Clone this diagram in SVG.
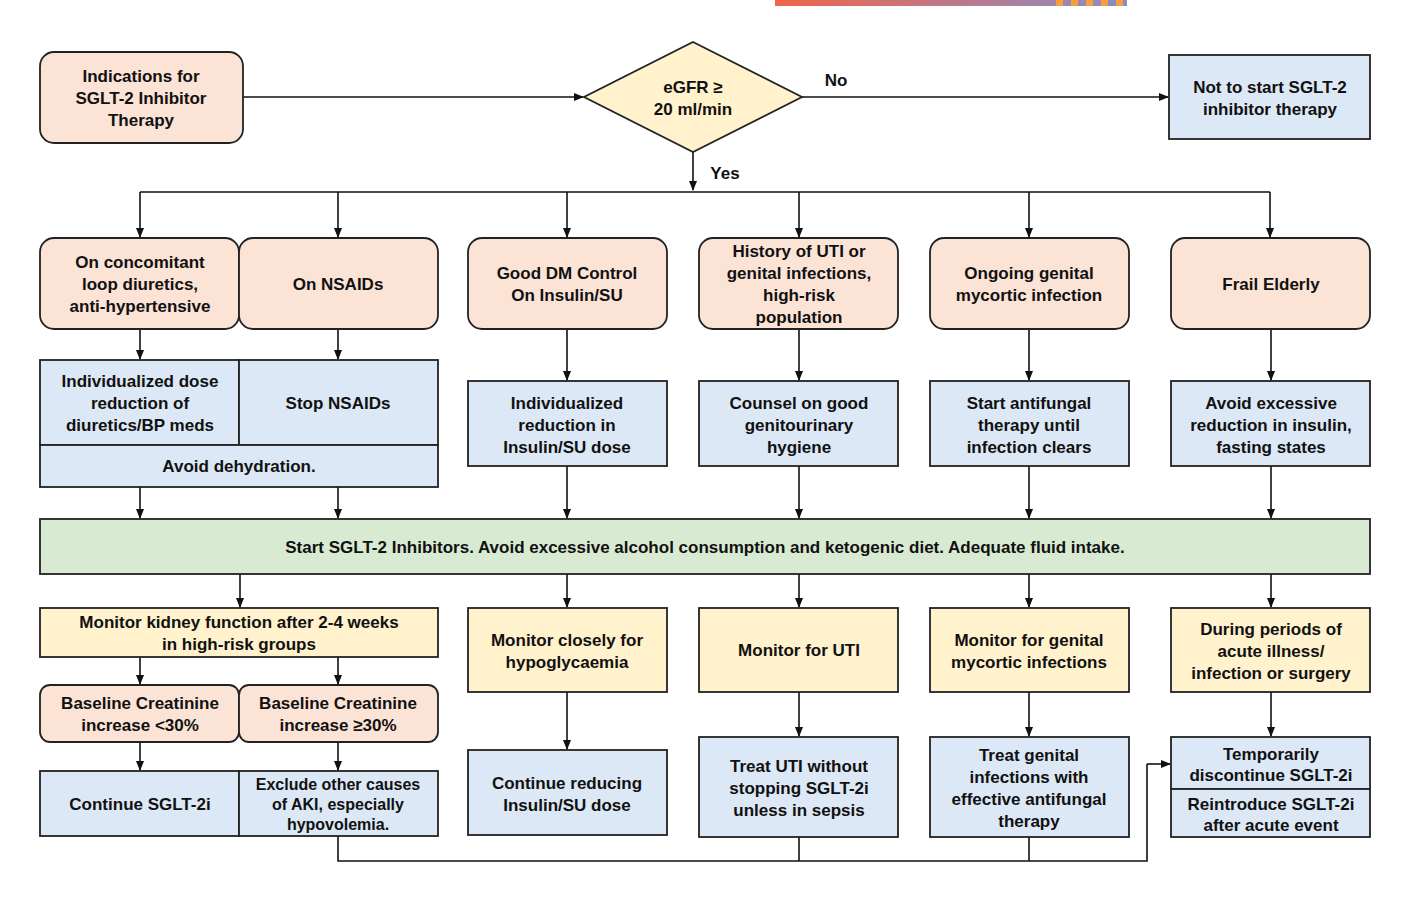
<svg xmlns="http://www.w3.org/2000/svg" width="1408" height="898" viewBox="0 0 1408 898">
<defs>
<marker id="ah" markerWidth="10" markerHeight="8" refX="9" refY="4" orient="auto" markerUnits="userSpaceOnUse"><path d="M0,0 L10,4 L0,8 Z" fill="#111"/></marker>
<linearGradient id="g" x1="0" x2="1"><stop offset="0" stop-color="#f0654a"/><stop offset="1" stop-color="#8a8cc6"/></linearGradient>
<style>
.b{stroke:#222;stroke-width:1.8}
.p{fill:#fbe3d6}.u{fill:#dce8f5}.y{fill:#fff2cc}.gr{fill:#d9ead3}
text{font-family:"Liberation Sans",Arial,sans-serif;font-weight:bold;font-size:17px;fill:#111;text-anchor:middle}
.c{fill:none;stroke:#111;stroke-width:1.6}
.a{marker-end:url(#ah)}
</style>
</defs>
<rect x="775" y="0" width="352" height="6" fill="url(#g)"/>
<g fill="#f5a03c"><rect x="1056" y="0" width="7" height="6"/><rect x="1071" y="0" width="7" height="6"/><rect x="1086" y="0" width="7" height="6"/><rect x="1101" y="0" width="7" height="6"/><rect x="1116" y="0" width="7" height="6"/></g>

<g id="connectors">
<path class="c a" d="M243,97 H583"/>
<path class="c a" d="M802,97 H1168"/>
<path class="c a" d="M693,152 V190"/>
<path class="c" d="M140,192 H1270"/>
<path class="c a" d="M140,192 V237"/><path class="c a" d="M338,192 V237"/><path class="c a" d="M567,192 V237"/><path class="c a" d="M799,192 V237"/><path class="c a" d="M1029,192 V237"/><path class="c a" d="M1270,192 V237"/>
<path class="c a" d="M140,329 V359"/><path class="c a" d="M338,329 V359"/>
<path class="c a" d="M567,329 V380"/><path class="c a" d="M799,329 V380"/><path class="c a" d="M1029,329 V380"/><path class="c a" d="M1271,329 V380"/>
<path class="c a" d="M140,487 V518"/><path class="c a" d="M338,487 V518"/>
<path class="c a" d="M567,466 V518"/><path class="c a" d="M799,466 V518"/><path class="c a" d="M1029,466 V518"/><path class="c a" d="M1271,466 V518"/>
<path class="c a" d="M240,574 V607"/><path class="c a" d="M567,574 V607"/><path class="c a" d="M799,574 V607"/><path class="c a" d="M1029,574 V607"/><path class="c a" d="M1271,574 V607"/>
<path class="c a" d="M140,657 V684"/><path class="c a" d="M338,657 V684"/>
<path class="c a" d="M140,742 V770"/><path class="c a" d="M338,742 V770"/>
<path class="c a" d="M567,692 V749"/><path class="c a" d="M799,692 V736"/><path class="c a" d="M1029,692 V736"/><path class="c a" d="M1271,692 V736"/>
<path class="c" d="M338,836 V861 H1147 V764"/><path class="c a" d="M1147,764 H1170"/>
<path class="c" d="M799,837 V861"/><path class="c" d="M1029,837 V861"/>
</g>
<text x="836" y="86">No</text>
<text x="725" y="179">Yes</text>

<g id="start"><rect class="b p" x="40" y="52" width="203" height="91" rx="14"/><text x="141" y="82">Indications for</text><text x="141" y="104">SGLT-2 Inhibitor</text><text x="141" y="126">Therapy</text></g>
<g id="egfr"><polygon class="b y" points="693,42 802,97 693,152 584,97"/><text x="693" y="93">eGFR ≥</text><text x="693" y="115">20 ml/min</text></g>
<g id="nostart"><rect class="b u" x="1169" y="55" width="201" height="84"/><text x="1270" y="93">Not to start SGLT-2</text><text x="1270" y="115">inhibitor therapy</text></g>

<g id="r1a"><rect class="b p" x="40" y="238" width="199" height="91" rx="14"/><text x="140" y="268">On concomitant</text><text x="140" y="290">loop diuretics,</text><text x="140" y="312">anti-hypertensive</text></g>
<g id="r1b"><rect class="b p" x="239" y="238" width="199" height="91" rx="14"/><text x="338" y="290">On NSAIDs</text></g>
<g id="r1c"><rect class="b p" x="468" y="238" width="199" height="91" rx="14"/><text x="567" y="279">Good DM Control</text><text x="567" y="301">On Insulin/SU</text></g>
<g id="r1d"><rect class="b p" x="699" y="238" width="199" height="91" rx="14"/><text x="799" y="257">History of UTI or</text><text x="799" y="279">genital infections,</text><text x="799" y="301">high-risk</text><text x="799" y="323">population</text></g>
<g id="r1e"><rect class="b p" x="930" y="238" width="199" height="91" rx="14"/><text x="1029" y="279">Ongoing genital</text><text x="1029" y="301">mycortic infection</text></g>
<g id="r1f"><rect class="b p" x="1171" y="238" width="199" height="91" rx="14"/><text x="1271" y="290">Frail Elderly</text></g>

<g id="r2a"><rect class="b u" x="40" y="360" width="199" height="85"/><text x="140" y="387">Individualized dose</text><text x="140" y="409">reduction of</text><text x="140" y="431">diuretics/BP meds</text></g>
<g id="r2b"><rect class="b u" x="239" y="360" width="199" height="85"/><text x="338" y="409">Stop NSAIDs</text></g>
<g id="r2ab"><rect class="b u" x="40" y="445" width="398" height="42"/><text x="239" y="472">Avoid dehydration.</text></g>
<g id="r2c"><rect class="b u" x="468" y="381" width="199" height="85"/><text x="567" y="409">Individualized</text><text x="567" y="431">reduction in</text><text x="567" y="453">Insulin/SU dose</text></g>
<g id="r2d"><rect class="b u" x="699" y="381" width="199" height="85"/><text x="799" y="409">Counsel on good</text><text x="799" y="431">genitourinary</text><text x="799" y="453">hygiene</text></g>
<g id="r2e"><rect class="b u" x="930" y="381" width="199" height="85"/><text x="1029" y="409">Start antifungal</text><text x="1029" y="431">therapy until</text><text x="1029" y="453">infection clears</text></g>
<g id="r2f"><rect class="b u" x="1171" y="381" width="199" height="85"/><text x="1271" y="409">Avoid excessive</text><text x="1271" y="431">reduction in insulin,</text><text x="1271" y="453">fasting states</text></g>

<g id="startsglt"><rect class="b gr" x="40" y="519" width="1330" height="55"/><text x="705" y="553">Start SGLT-2 Inhibitors. Avoid excessive alcohol consumption and ketogenic diet. Adequate fluid intake.</text></g>

<g id="r3a"><rect class="b y" x="40" y="608" width="398" height="49"/><text x="239" y="628">Monitor kidney function after 2-4 weeks</text><text x="239" y="650">in high-risk groups</text></g>
<g id="r3c"><rect class="b y" x="468" y="608" width="199" height="84"/><text x="567" y="646">Monitor closely for</text><text x="567" y="668">hypoglycaemia</text></g>
<g id="r3d"><rect class="b y" x="699" y="608" width="199" height="84"/><text x="799" y="656">Monitor for UTI</text></g>
<g id="r3e"><rect class="b y" x="930" y="608" width="199" height="84"/><text x="1029" y="646">Monitor for genital</text><text x="1029" y="668">mycortic infections</text></g>
<g id="r3f"><rect class="b y" x="1171" y="608" width="199" height="84"/><text x="1271" y="635">During periods of</text><text x="1271" y="657">acute illness/</text><text x="1271" y="679">infection or surgery</text></g>

<g id="bc1"><rect class="b p" x="40" y="685" width="199" height="57" rx="10"/><text x="140" y="709">Baseline Creatinine</text><text x="140" y="731">increase &lt;30%</text></g>
<g id="bc2"><rect class="b p" x="239" y="685" width="199" height="57" rx="10"/><text x="338" y="709">Baseline Creatinine</text><text x="338" y="731">increase ≥30%</text></g>

<g id="r5a"><rect class="b u" x="40" y="771" width="199" height="65"/><text x="140" y="810">Continue SGLT-2i</text></g>
<g id="r5b"><rect class="b u" x="239" y="771" width="199" height="65"/><text x="338" y="790" style="font-size:16px">Exclude other causes</text><text x="338" y="810" style="font-size:16px">of AKI, especially</text><text x="338" y="830" style="font-size:16px">hypovolemia.</text></g>
<g id="r5c"><rect class="b u" x="468" y="750" width="199" height="85"/><text x="567" y="789">Continue reducing</text><text x="567" y="811">Insulin/SU dose</text></g>
<g id="r5d"><rect class="b u" x="699" y="737" width="199" height="100"/><text x="799" y="772">Treat UTI without</text><text x="799" y="794">stopping SGLT-2i</text><text x="799" y="816">unless in sepsis</text></g>
<g id="r5e"><rect class="b u" x="930" y="737" width="199" height="100"/><text x="1029" y="761">Treat genital</text><text x="1029" y="783">infections with</text><text x="1029" y="805">effective antifungal</text><text x="1029" y="827">therapy</text></g>
<g id="r5f"><rect class="b u" x="1171" y="737" width="199" height="52"/><text x="1271" y="760">Temporarily</text><text x="1271" y="781">discontinue SGLT-2i</text></g>
<g id="r5g"><rect class="b u" x="1171" y="789" width="199" height="48"/><text x="1271" y="810">Reintroduce SGLT-2i</text><text x="1271" y="831">after acute event</text></g>
</svg>
